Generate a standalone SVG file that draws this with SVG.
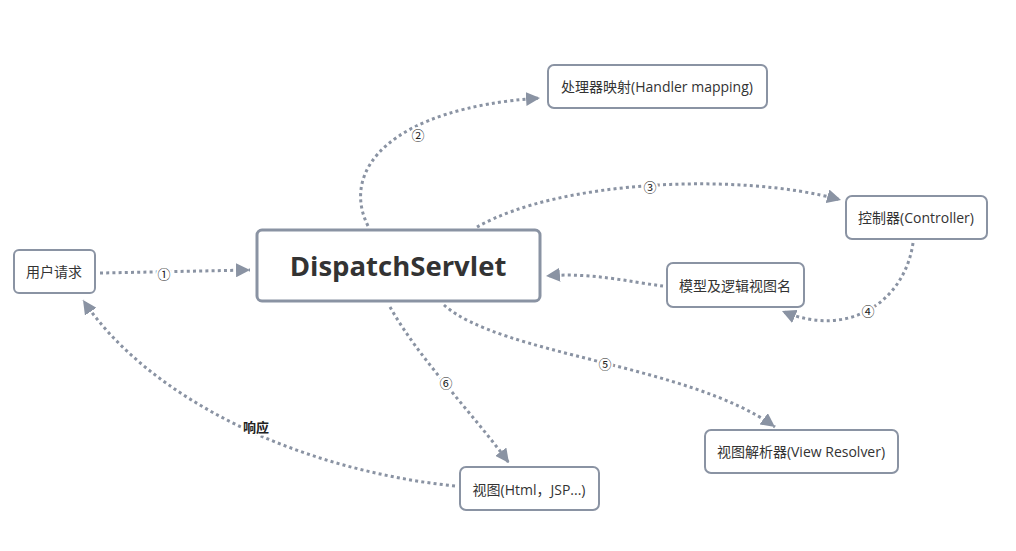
<svg xmlns="http://www.w3.org/2000/svg" width="1016" height="551" viewBox="0 0 1016 551">
<style>
.box{fill:#fff;stroke:#8a93a3;stroke-width:2}
.main{fill:#fff;stroke:#8a93a3;stroke-width:3}
.t{font-family:"Open Sans","Noto Sans CJK SC",sans-serif;font-size:14px;fill:#333;text-anchor:middle;dominant-baseline:central}
.big{font-family:"Open Sans","Noto Sans CJK SC",sans-serif;font-size:27.5px;font-weight:bold;fill:#333;text-anchor:middle;dominant-baseline:central}
.c{fill:none;stroke:#8a93a3;stroke-width:3;stroke-dasharray:3 3.2;marker-end:url(#arr)}
.lb{font-family:"Noto Sans CJK SC","DejaVu Sans",sans-serif;font-size:13px;fill:#222;text-anchor:middle;dominant-baseline:central;stroke:#fff;stroke-width:4;paint-order:stroke}
</style>
<defs>
<marker id="arr" markerUnits="userSpaceOnUse" markerWidth="16" markerHeight="14" refX="14" refY="7" orient="auto">
<path d="M0,0 L14,7 L0,14 Z" fill="#8a93a3"/>
</marker>
</defs>
<rect width="1016" height="551" fill="#fff"/>
<g id="connectors">
<path class="c" d="M100,273 L250,270"/>
<path class="c" d="M368,226 C340,170 390,108 540,98"/>
<path class="c" d="M477,227 C560,180 740,172 841,200"/>
<path class="c" d="M913,243 C905,300 850,340 782,311"/>
<path class="c" d="M663,286 C630,282 590,272 546,276"/>
<path class="c" d="M444,305 C500,355 690,365 775,427"/>
<path class="c" d="M390,307 C420,360 470,410 509,463"/>
<path class="c" d="M455,486 C300,470 150,400 83,300"/>
<text class="lb" x="164" y="273">①</text>
<text class="lb" x="418" y="134">②</text>
<text class="lb" x="650" y="186">③</text>
<text class="lb" x="868" y="310">④</text>
<text class="lb" x="605" y="363">⑤</text>
<text class="lb" x="446" y="382">⑥</text>
<text class="lb" x="256" y="426" font-weight="bold">响应</text>
</g>
<g id="n-user"><rect class="box" x="14" y="250" width="81" height="43" rx="5"/><text class="t" x="54" y="271">用户请求</text></g>
<g id="n-dispatch"><rect class="main" x="257" y="230" width="283" height="71" rx="5"/><text class="big" x="398" y="265">DispatchServlet</text></g>
<g id="n-mapping"><rect class="box" x="548" y="65" width="219" height="43" rx="6"/><text class="t" x="657" y="86">处理器映射(Handler mapping)</text></g>
<g id="n-controller"><rect class="box" x="846" y="196" width="141" height="43" rx="6"/><text class="t" x="916" y="217">控制器(Controller)</text></g>
<g id="n-model"><rect class="box" x="667" y="263" width="137" height="44" rx="6"/><text class="t" x="735" y="285">模型及逻辑视图名</text></g>
<g id="n-resolver"><rect class="box" x="705" y="430" width="193" height="43" rx="6"/><text class="t" x="801" y="451">视图解析器(View Resolver)</text></g>
<g id="n-view"><rect class="box" x="460" y="467" width="139" height="43" rx="6"/><text class="t" x="529" y="489">视图(Html，JSP...)</text></g>
</svg>
